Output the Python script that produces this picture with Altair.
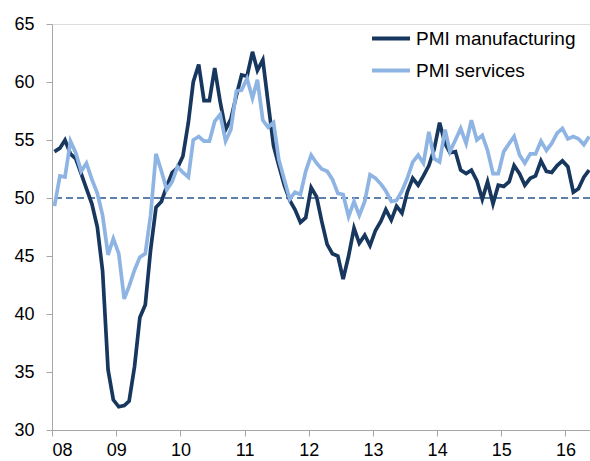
import altair as alt
import pandas as pd

# Monthly PMI readings, Jan 2008 - May 2016
manufacturing = [
    54.0, 54.3, 55.0, 53.8, 53.4, 52.1, 50.8, 49.5, 47.5, 43.7, 35.2, 32.6,  # 2008
    32.0, 32.1, 32.5, 35.5, 39.7, 40.8, 45.5, 49.2, 49.7, 51.0, 52.2, 52.6,  # 2009
    53.6, 56.5, 60.0, 61.5, 58.4, 58.4, 61.2, 58.3, 55.9, 56.8, 58.8, 60.6,  # 2010
    60.5, 62.6, 61.0, 61.9, 58.2, 54.5, 52.8, 51.1, 49.8, 49.0, 47.9, 48.3,  # 2011
    50.9, 50.1, 48.0, 46.0, 45.2, 45.0, 43.0, 45.0, 47.4, 46.1, 46.8, 45.9,  # 2012
    47.2, 48.0, 49.0, 48.1, 49.3, 48.7, 50.5, 51.7, 51.1, 51.9, 52.8, 54.2,  # 2013
    56.5, 54.7, 53.9, 54.0, 52.4, 52.1, 52.4, 51.5, 49.9, 51.4, 49.5, 51.1,  # 2014
    51.0, 51.4, 52.8, 52.1, 51.1, 51.7, 51.9, 53.2, 52.3, 52.2, 52.8, 53.2,  # 2015
    52.7, 50.5, 50.8, 51.8, 52.4,                                            # 2016
]
services = [
    49.3, 51.9, 51.8, 54.9, 53.9, 52.3, 53.0, 51.6, 50.4, 48.5, 45.1, 46.5,  # 2008
    45.2, 41.3, 42.4, 43.8, 44.9, 45.2, 48.5, 53.8, 52.3, 50.7, 51.4, 52.7,  # 2009
    52.2, 51.8, 55.0, 55.3, 54.9, 54.9, 56.6, 57.2, 54.9, 55.9, 59.2, 59.3,  # 2010
    60.3, 58.6, 60.2, 56.7, 56.1, 56.5, 53.3, 51.6, 49.9, 50.5, 50.3, 52.3,  # 2011
    53.7, 53.0, 52.5, 52.3, 51.6, 50.4, 50.3, 48.4, 49.7, 48.5, 49.7, 52.0,  # 2012
    51.7, 51.2, 50.6, 49.7, 49.8, 50.6, 51.7, 53.1, 53.7, 53.0, 55.7, 53.4,  # 2013
    53.1, 55.9, 54.0, 55.0, 56.0, 54.7, 56.7, 55.0, 55.4, 54.1, 52.1, 52.1,  # 2014
    54.0, 54.7, 55.3, 53.7, 53.0, 53.8, 53.8, 54.9, 54.1, 54.7, 55.6, 56.0,  # 2015
    55.1, 55.3, 55.1, 54.6, 55.3,                                            # 2016
]
series_names = ["PMI manufacturing", "PMI services"]
series_colors = ["#17375E", "#8EB4E3"]
year_ticks = list(range(2008, 2017))
y_ticks = [30, 35, 40, 45, 50, 55, 60, 65]
threshold = [50]

dates = [
    (pd.Timestamp(year=2008, month=1, day=15) + pd.DateOffset(months=i)).strftime("%Y-%m-%d")
    for i in range(len(manufacturing))
]

df = pd.concat([
    pd.DataFrame({"date": dates, "value": manufacturing, "series": series_names[0]}),
    pd.DataFrame({"date": dates, "value": services, "series": series_names[1]}),
])

FONT = "Liberation Sans"

x_enc = alt.X(
    "date:T",
    scale=alt.Scale(
        type="utc",
        domain=[alt.DateTime(year=2008, month=1, date=1, utc=True),
                alt.DateTime(year=2016, month=5, date=20, utc=True)],
    ),
    axis=alt.Axis(
        title=None,
        values=[alt.DateTime(year=y, month=1, date=1, utc=True) for y in year_ticks],
        labelExpr="utcFormat(datum.value, '%y')",
        grid=False,
        domainColor="#a6a6a6",
        tickColor="#a6a6a6",
        tickSize=6,
        labelPadding=5,
        labelFontSize=18,
        labelFont=FONT,
        labelColor="#000000",
    ),
)
y_enc = alt.Y(
    "value:Q",
    scale=alt.Scale(domain=[30, 65], nice=False, zero=False),
    axis=alt.Axis(
        title=None,
        values=y_ticks,
        grid=False,
        domainColor="#a6a6a6",
        tickColor="#a6a6a6",
        tickSize=6,
        labelPadding=12,
        labelFontSize=18,
        labelFont=FONT,
        labelColor="#000000",
    ),
)

lines = alt.Chart(df).mark_line(strokeWidth=3.7, strokeJoin="miter", interpolate="linear").encode(
    x=x_enc,
    y=y_enc,
    color=alt.Color(
        "series:N",
        scale=alt.Scale(domain=series_names, range=series_colors),
        legend=alt.Legend(
            title=None,
            orient="none",
            legendX=318,
            legendY=5,
            symbolType="stroke",
            symbolSize=1444,
            symbolStrokeWidth=4,
            clipHeight=19,
            labelFontSize=19,
            labelFont=FONT,
            labelColor="#000000",
            labelOffset=4,
            rowPadding=12,
        ),
    ),
    order=alt.Order("series:N", sort="ascending"),
)

rule = alt.Chart(pd.DataFrame({"y": threshold})).mark_rule(
    color="#2B5590", strokeWidth=1.3, strokeDash=[7, 4]
).encode(y=alt.Y("y:Q", scale=alt.Scale(domain=[30, 65], nice=False, zero=False)))

chart = alt.layer(rule, lines).properties(
    width=538,
    height=406,
    autosize=alt.AutoSizeParams(type="none"),
    padding={"left": 52, "top": 24, "right": 0, "bottom": 31},
).configure_view(stroke=None).configure(background="white")

chart.save("out.html", embed_options={"renderer": "svg", "actions": False})
